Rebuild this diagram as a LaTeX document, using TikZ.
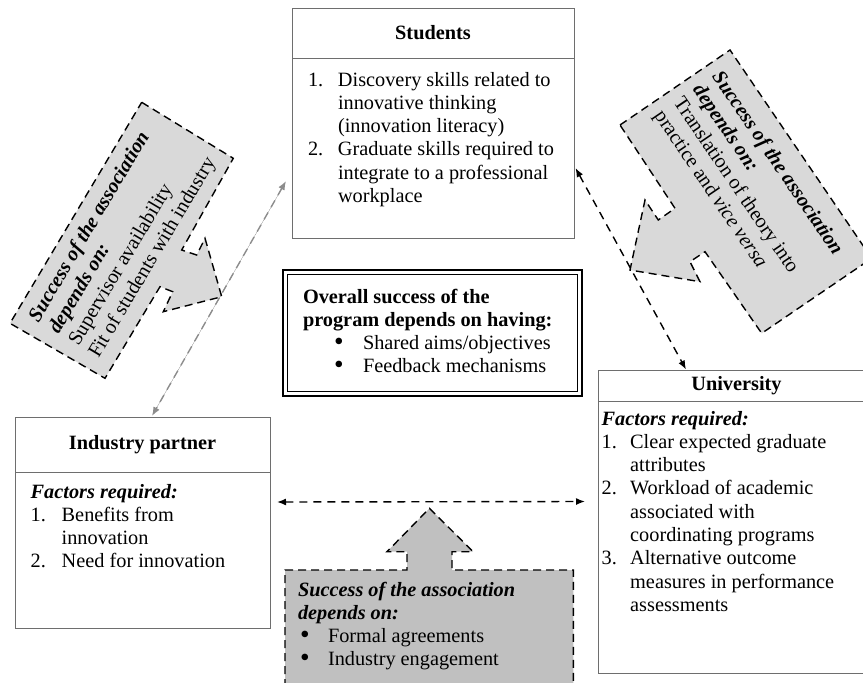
\documentclass[tikz,border=0pt]{standalone}
\usepackage{fontspec}
\usepackage{graphicx}
\setmainfont{Liberation Serif}
\usetikzlibrary{arrows.meta}
\newcommand\fsz{\fontsize{20.3}{23.3}\selectfont}
\newcommand\numbox[2]{\makebox[#1][l]{#2}}
\newcommand\bigbul{\raisebox{-0.6pt}{\scalebox{1.35}{\textbullet}}}
\definecolor{shA}{RGB}{217,217,217}
\definecolor{shB}{RGB}{192,192,192}
\definecolor{boxgray}{RGB}{110,110,110}
\definecolor{conngray}{RGB}{140,140,140}
\tikzset{
  boxrect/.style={draw=boxgray, line width=0.9pt, fill=white, inner sep=0pt, outer sep=0pt, anchor=north west},
  txt/.style={inner sep=0pt, outer sep=0pt, anchor=base west, font=\fsz},
  dshape/.style={draw=black, line width=1.4pt, dash pattern=on 8pt off 5pt},
  conn/.style={line width=1.4pt, dash pattern=on 8pt off 6pt, {Latex[length=9pt,width=7pt]}-{Latex[length=9pt,width=7pt]}},
}
\begin{document}
\begin{tikzpicture}[x=1pt,y=-1pt,font=\fsz]
\path[use as bounding box] (0,0) rectangle (863,683);
\begin{scope}
\clip (0,0) rectangle (863,683);
% ---------- Students ----------
\node[boxrect, minimum width=282pt, minimum height=50pt] (stuH) at (292,8) {};
\node[boxrect, minimum width=282pt, minimum height=180pt] (stuB) at (292,58) {};
\node[font=\fsz\bfseries] (stuT) at (433,33) {Students};
\node[txt] (stuL) at (308,86) {\begin{tabular}[t]{@{}l@{}}
\numbox{30pt}{1.}Discovery skills related to\\
\hspace*{30pt}innovative thinking\\
\hspace*{30pt}(innovation literacy)\\
\numbox{30pt}{2.}Graduate skills required to\\
\hspace*{30pt}integrate to a professional\\
\hspace*{30pt}workplace
\end{tabular}};
% ---------- Industry partner ----------
\node[boxrect, minimum width=255pt, minimum height=55pt] (indH) at (15,417) {};
\node[boxrect, minimum width=255pt, minimum height=156pt] (indB) at (15,472) {};
\node[font=\fsz\bfseries] (indT) at (142.5,444.5) {Industry partner};
\node[txt] (indL) at (30.7,498) {\begin{tabular}[t]{@{}l@{}}
\textbf{\textit{Factors required:}}\\
\numbox{31pt}{1.}Benefits from\\
\hspace*{31pt}innovation\\
\numbox{31pt}{2.}Need for innovation
\end{tabular}};
% ---------- University ----------
\node[boxrect, minimum width=278pt, minimum height=31pt] (uniH) at (598,370) {};
\node[boxrect, minimum width=278pt, minimum height=272pt] (uniB) at (598,401) {};
\node[font=\fsz\bfseries] (uniT) at (736.5,386) {University};
\node[txt] (uniL) at (601.7,425) {\begin{tabular}[t]{@{}l@{}}
\textbf{\textit{Factors required:}}\\
\numbox{28.5pt}{1.}Clear expected graduate\\
\hspace*{28.5pt}attributes\\
\numbox{28.5pt}{2.}Workload of academic\\
\hspace*{28.5pt}associated with\\
\hspace*{28.5pt}coordinating programs\\
\numbox{28.5pt}{3.}Alternative outcome\\
\hspace*{28.5pt}measures in performance\\
\hspace*{28.5pt}assessments
\end{tabular}};
% ---------- Centre box ----------
\node[boxrect, draw=black, line width=1.8pt, minimum width=299pt, minimum height=126pt] (ctrO) at (283,270) {};
\node[boxrect, draw=black, line width=0.8pt, fill=none, minimum width=290pt, minimum height=117pt] (ctrI) at (287.5,274.5) {};
\node[txt] (ctrL) at (303,303) {\begin{tabular}[t]{@{}l@{}}
\textbf{Overall success of the}\\
\textbf{program depends on having:}\\
\hspace*{31pt}\makebox[29pt][l]{\bigbul}Shared aims/objectives\\
\hspace*{31pt}\makebox[29pt][l]{\bigbul}Feedback mechanisms
\end{tabular}};
% ---------- Left block arrow ----------
\draw[dshape, fill=shA] (141.7,102.3) -- (233.3,158.3) -- (181.7,250) -- (196.7,255)
  -- (205,238.3) -- (221.7,296.7) -- (163.3,311.7) -- (172.7,291.7) -- (160,286.7)
  -- (105,378.3) -- (10,323.3) -- cycle;
\node[txt, rotate=59.2] (leftL) at (38.5,323) {\begin{tabular}[t]{@{}l@{}}
\textbf{\textit{Success of the association}}\\
\textbf{\textit{depends on:}}\\
Supervisor availability\\
Fit of students with industry
\end{tabular}};
% ---------- Right block arrow ----------
\draw[dshape, fill=shA] (620,125) -- (730,50) -- (871.7,258.3) -- (761.7,333.3)
  -- (705,251.7) -- (690,261.7) -- (700,281.7) -- (630,270) -- (645,200)
  -- (658.3,220) -- (675,208.3) -- cycle;
\node[txt, rotate=-55.8] (rightL) at (711.7,76.7) {\begin{tabular}[t]{@{}l@{}}
\textbf{\textit{Success of the association}}\\
\textbf{\textit{depends on:}}\\
Translation of theory into\\
practice and \textit{vice versa}
\end{tabular}};
% ---------- Bottom block arrow ----------
\draw[dshape, fill=shB] (285,700) -- (285,570) -- (407,570) -- (407,551.7) -- (387,551.7)
  -- (429.5,508.3) -- (473,551.7) -- (452,551.7) -- (452,570) -- (573.3,570)
  -- (573.3,700) -- cycle;
\node[txt] (botL) at (298,596) {\begin{tabular}[t]{@{}l@{}}
\textbf{\textit{Success of the association}}\\
\textbf{\textit{depends on:}}\\
\hspace*{2pt}\makebox[28pt][l]{\bigbul}Formal agreements\\
\hspace*{2pt}\makebox[28pt][l]{\bigbul}Industry engagement
\end{tabular}};
% ---------- Connectors ----------
\coordinate (c1a) at (286,181);
\coordinate (c1b) at (152,416);
\coordinate (c2a) at (575.5,168);
\coordinate (c2b) at (686,369.5);
\coordinate (c3a) at (277,502);
\coordinate (c3b) at (585,501.5);
\draw[conn, draw=conngray, fill=black] (c1a) -- (c1b);
\draw[conn] (c2a) -- (c2b);
\draw[conn] (c3a) -- (c3b);
\end{scope}
\end{tikzpicture}
\end{document}
